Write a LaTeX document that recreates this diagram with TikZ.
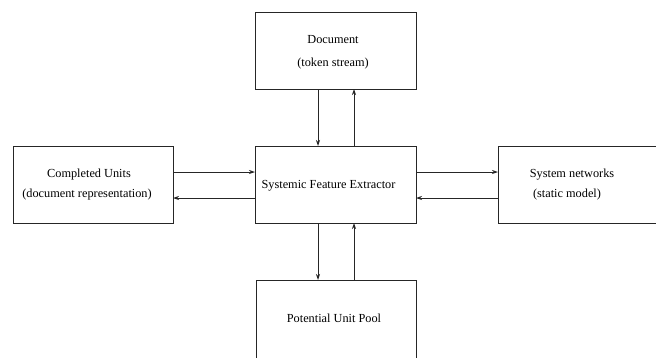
\documentclass[tikz,border=0pt]{standalone}
\usepackage{fontspec}
\setmainfont{Liberation Serif}
\usetikzlibrary{arrows.meta}
\begin{document}
\begin{tikzpicture}[x=1pt,y=-1pt,
  box/.style={draw=black!85,line width=0.8pt,rectangle,inner sep=0pt,anchor=north west},
  lbl/.style={font=\fontsize{12.3}{14}\selectfont,inner sep=0pt,anchor=base},
  flow/.style={draw=black!85,line width=0.8pt,-{Stealth[length=6pt,width=4pt,inset=2pt]}}]
  \useasboundingbox (0,0) rectangle (656,357);
  \clip (0,0) rectangle (656,357);
  % boxes
  \node[box,minimum width=161pt,minimum height=77pt] (doc) at (255,12) {};
  \node[box,minimum width=161pt,minimum height=77pt] (sfe) at (255,146) {};
  \node[box,minimum width=160pt,minimum height=77pt] (cu) at (13,146) {};
  \node[box,minimum width=162pt,minimum height=77pt] (sn) at (498,146) {};
  \node[box,minimum width=160pt,minimum height=84pt] (pool) at (256,280) {};
  % labels
  \node[lbl] (docA) at (333,43) {Document};
  \node[lbl] (docB) at (333,66) {(token stream)};
  \node[lbl] (cuA) at (89,177) {Completed Units};
  \node[lbl] (cuB) at (87,197) {(document representation)};
  \node[lbl] (sfeA) at (328.5,188) {Systemic Feature Extractor};
  \node[lbl] (snA) at (572,177) {System networks};
  \node[lbl] (snB) at (567,197) {(static model)};
  \node[lbl] (poolA) at (334,322) {Potential Unit Pool};
  % connectors
  \coordinate (d1) at (318,89);  \coordinate (d2) at (318,146);
  \coordinate (u1) at (354,146); \coordinate (u2) at (354,89);
  \draw[flow] (d1) -- (d2);
  \draw[flow] (u1) -- (u2);
  \coordinate (l1) at (173,172); \coordinate (l2) at (255,172);
  \coordinate (l3) at (255,198); \coordinate (l4) at (173,198);
  \draw[flow] (l1) -- (l2);
  \draw[flow] (l3) -- (l4);
  \coordinate (r1) at (416,172); \coordinate (r2) at (498,172);
  \coordinate (r3) at (498,198); \coordinate (r4) at (416,198);
  \draw[flow] (r1) -- (r2);
  \draw[flow] (r3) -- (r4);
  \coordinate (b1) at (318,223); \coordinate (b2) at (318,280);
  \coordinate (b3) at (354,280); \coordinate (b4) at (354,223);
  \draw[flow] (b1) -- (b2);
  \draw[flow] (b3) -- (b4);
\end{tikzpicture}
\end{document}
